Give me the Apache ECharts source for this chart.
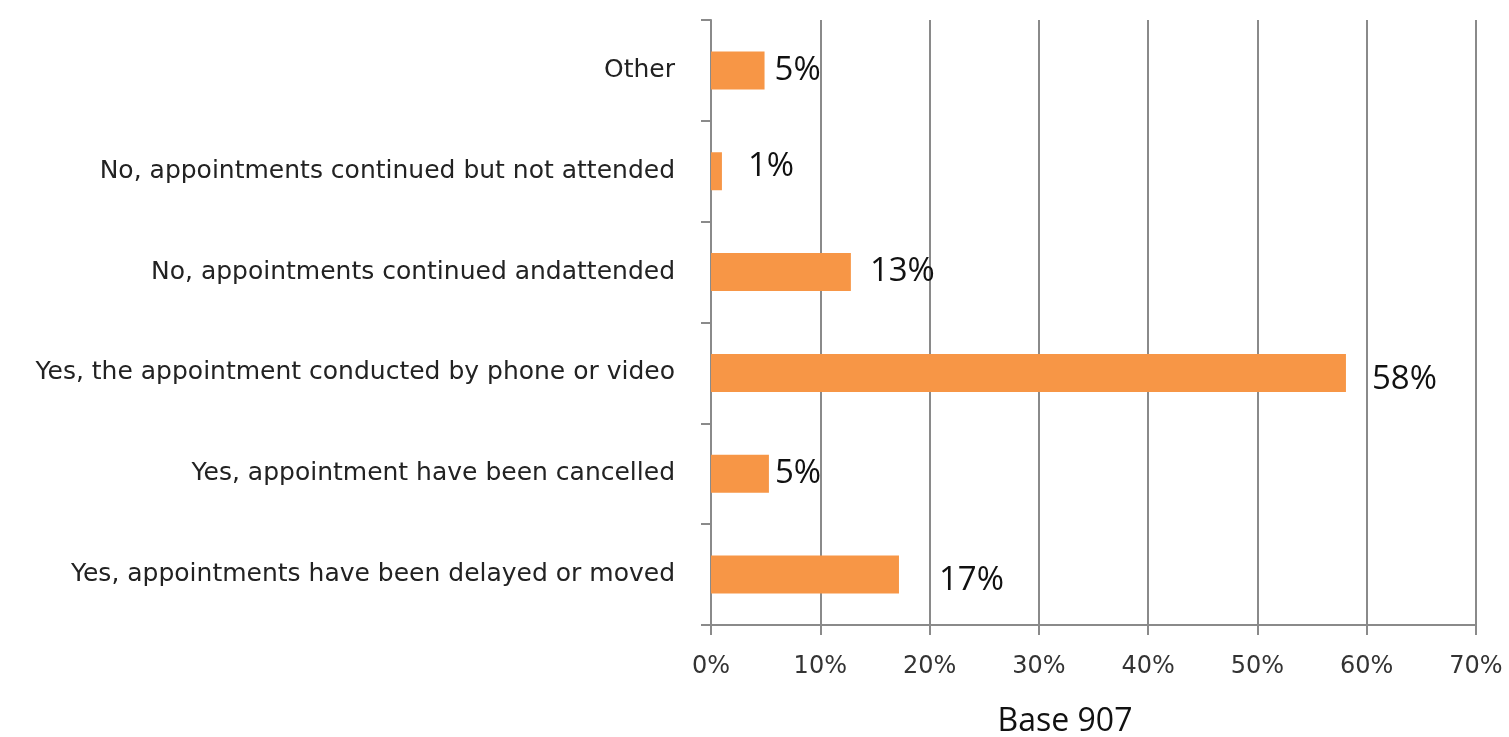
<!DOCTYPE html>
<html><head><meta charset="utf-8">
<script src="https://cdn.jsdelivr.net/npm/echarts@6/dist/echarts.min.js"></script>
<style>html,body{margin:0;padding:0;background:#fff}#c{width:1509px;height:737px}</style>
</head><body><div id="c"></div>
<script>
var categories = [
  "Yes, appointments have been delayed or moved",
  "Yes, appointment have been cancelled",
  "Yes, the appointment conducted by phone or video",
  "No, appointments continued andattended",
  "No, appointments continued but not attended",
  "Other"
];
var values = [17.2, 5.3, 58.1, 12.8, 1.0, 4.9];
var labels = ["17%", "5%", "58%", "13%", "1%", "5%"];
var xTicks = [0, 10, 20, 30, 40, 50, 60, 70];
var footnote = "Base 907";

var labelOffsets = [[40, 6], [6, 0], [26, 7], [19, 0], [26, -5], [10, 0]];
var data = values.map(function (v, i) {
  return { value: v, label: { formatter: labels[i], offset: [labelOffsets[i][0] - 8, labelOffsets[i][1]] } };
});

var chart = echarts.init(document.getElementById('c'));
chart.setOption({
  animation: false,
  backgroundColor: '#fff',
  grid: { left: 711, right: 33, top: 20, bottom: 112, containLabel: false },
  title: {
    text: footnote, left: 1060, top: 701, textAlign: 'center',
    textStyle: { fontFamily: 'Open Sans', fontWeight: 'normal', fontSize: 32, color: '#111' }
  },
  xAxis: {
    type: 'value', min: xTicks[0], max: xTicks[xTicks.length - 1], interval: 10,
    axisLine: { show: true, lineStyle: { color: '#8a8a8a', width: 2 } },
    axisTick: { show: true, length: 10, lineStyle: { color: '#8a8a8a', width: 2 } },
    splitLine: { show: true, lineStyle: { color: '#8a8a8a', width: 2 } },
    axisLabel: { formatter: '{value}%', fontFamily: 'DejaVu Sans', fontSize: 24, color: '#333', margin: 30 }
  },
  yAxis: {
    type: 'category', data: categories,
    axisLine: { show: true, lineStyle: { color: '#8a8a8a', width: 2 } },
    axisTick: { show: true, length: 10, inside: false, lineStyle: { color: '#8a8a8a', width: 2 } },
    axisLabel: { fontFamily: 'DejaVu Sans', fontSize: 25, color: '#222', margin: 36 }
  },
  series: [{
    type: 'bar', data: data, barWidth: 38,
    itemStyle: { color: '#F79646' },
    label: { show: true, position: 'right', distance: 8, fontFamily: 'Open Sans', fontSize: 33, color: '#111' }
  }]
});
</script></body></html>
